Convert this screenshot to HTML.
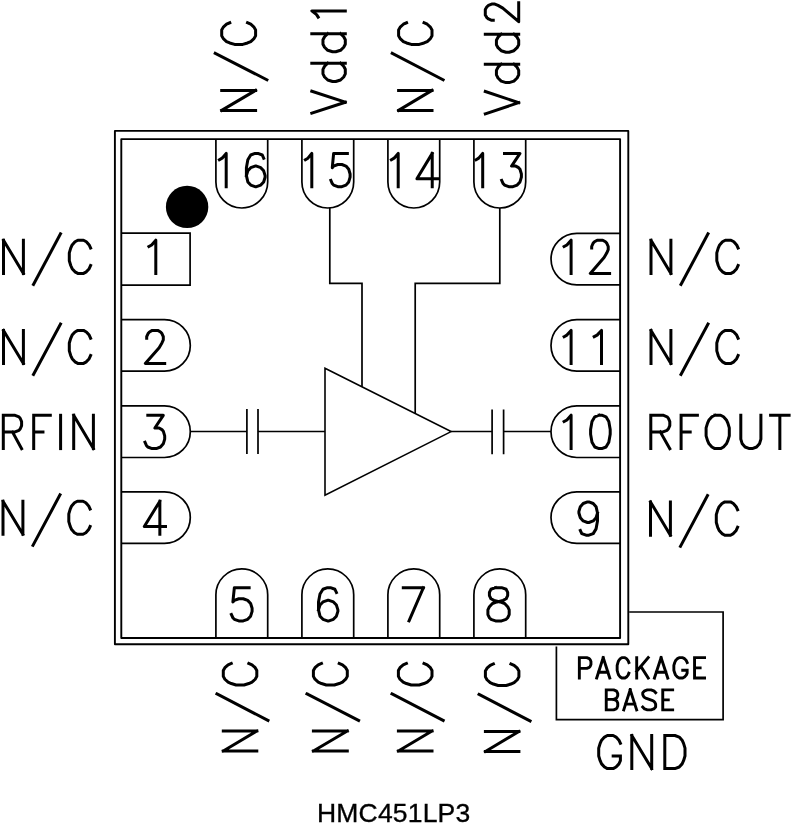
<!DOCTYPE html>
<html><head><meta charset="utf-8"><title>HMC451LP3</title>
<style>
html,body{margin:0;padding:0;background:#fff;}
body{width:792px;height:827px;overflow:hidden;position:relative;font-family:"Liberation Sans",sans-serif;}
svg{position:absolute;left:0;top:0;}
.cap{position:absolute;left:316.8px;top:799.6px;font-size:26.5px;line-height:1;color:#000;-webkit-text-stroke:0.35px #000;white-space:nowrap;transform:translateZ(0);will-change:transform;letter-spacing:0.18px;}
</style></head><body>
<svg width="792" height="827" viewBox="0 0 792 827" fill="none" stroke="#000" stroke-linecap="square" stroke-linejoin="round">
<rect x="114.9" y="130.9" width="513.4" height="513.3" stroke-width="1.9"/>
<rect x="121.3" y="139.1" width="498.8" height="498.9" stroke-width="1.9"/>
<path d="M215.9 139.1V182.1A25.9 25.9 0 0 0 267.7 182.1V139.1" stroke-width="1.7" stroke-linecap="butt" stroke-linejoin="miter"/>
<path d="M215.9 638V594.8A25.9 25.9 0 0 1 267.7 594.8V638" stroke-width="1.7" stroke-linecap="butt" stroke-linejoin="miter"/>
<path d="M301.9 139.1V182.1A25.9 25.9 0 0 0 353.7 182.1V139.1" stroke-width="1.7" stroke-linecap="butt" stroke-linejoin="miter"/>
<path d="M301.9 638V594.8A25.9 25.9 0 0 1 353.7 594.8V638" stroke-width="1.7" stroke-linecap="butt" stroke-linejoin="miter"/>
<path d="M387.9 139.1V182.1A25.9 25.9 0 0 0 439.7 182.1V139.1" stroke-width="1.7" stroke-linecap="butt" stroke-linejoin="miter"/>
<path d="M387.9 638V594.8A25.9 25.9 0 0 1 439.7 594.8V638" stroke-width="1.7" stroke-linecap="butt" stroke-linejoin="miter"/>
<path d="M473.9 139.1V182.1A25.9 25.9 0 0 0 525.7 182.1V139.1" stroke-width="1.7" stroke-linecap="butt" stroke-linejoin="miter"/>
<path d="M473.9 638V594.8A25.9 25.9 0 0 1 525.7 594.8V638" stroke-width="1.7" stroke-linecap="butt" stroke-linejoin="miter"/>
<path d="M121.3 233.2H190.1V285.2H121.3" stroke-width="1.7" stroke-linecap="butt" stroke-linejoin="miter"/>
<path d="M620.1 233.3H576.8A25.8 25.8 0 0 0 576.8 284.9H620.1" stroke-width="1.7" stroke-linecap="butt" stroke-linejoin="miter"/>
<path d="M121.3 319.6H164.5A25.8 25.8 0 0 1 164.5 371.2H121.3" stroke-width="1.7" stroke-linecap="butt" stroke-linejoin="miter"/>
<path d="M620.1 319.6H576.8A25.8 25.8 0 0 0 576.8 371.2H620.1" stroke-width="1.7" stroke-linecap="butt" stroke-linejoin="miter"/>
<path d="M121.3 405.9H164.5A25.8 25.8 0 0 1 164.5 457.5H121.3" stroke-width="1.7" stroke-linecap="butt" stroke-linejoin="miter"/>
<path d="M620.1 405.9H576.8A25.8 25.8 0 0 0 576.8 457.5H620.1" stroke-width="1.7" stroke-linecap="butt" stroke-linejoin="miter"/>
<path d="M121.3 491.8H164.5A25.8 25.8 0 0 1 164.5 543.4H121.3" stroke-width="1.7" stroke-linecap="butt" stroke-linejoin="miter"/>
<path d="M620.1 491.8H576.8A25.8 25.8 0 0 0 576.8 543.4H620.1" stroke-width="1.7" stroke-linecap="butt" stroke-linejoin="miter"/>
<circle cx="187.1" cy="206.9" r="21.2" fill="#000" stroke="none"/>
<path d="M190.3 431.5H246.9M246.9 409V454.1M258 409V454.1M258 431.5H325" stroke-width="1.7" stroke-linecap="butt" stroke-linejoin="miter"/>
<path d="M451.1 431.5H492.1M492.1 409.6V454.2M503.6 409.6V454.2M503.6 431.5H551" stroke-width="1.7" stroke-linecap="butt" stroke-linejoin="miter"/>
<path d="M325 368.2L451.1 431.6L325 495.2Z" stroke-width="1.6" stroke-linecap="butt" stroke-linejoin="miter"/>
<path d="M329.8 208V283.4H362V386.7" stroke-width="1.7" stroke-linecap="butt" stroke-linejoin="miter"/>
<path d="M499.8 208V283.3H415.2V413.5" stroke-width="1.7" stroke-linecap="butt" stroke-linejoin="miter"/>
<path d="M629.2 612H723.1V719.7H556.4V646.4" stroke-width="1.7" stroke-linecap="butt" stroke-linejoin="miter"/>
<path d="M3.5 240.2 3.5 273.4M3.5 240.2 23.4 273.4M23.4 240.2 23.4 273.4" stroke-width="3"/>
<path d="M60.5 233.88 33.5 284.47" stroke-width="3"/>
<path d="M90.6 248.1 89.18 244.94 86.34 241.78 83.5 240.2 77.82 240.2 74.98 241.78 72.14 244.94 70.72 248.1 69.3 252.85 69.3 260.75 70.72 265.5 72.14 268.66 74.98 271.82 77.82 273.4 83.5 273.4 86.34 271.82 89.18 268.66 90.6 265.5" stroke-width="3"/>
<path d="M3.5 330.4 3.5 363.4M3.5 330.4 23.4 363.4M23.4 330.4 23.4 363.4" stroke-width="3"/>
<path d="M60.5 324.11 33.5 374.4" stroke-width="3"/>
<path d="M90.6 338.26 89.18 335.11 86.34 331.97 83.5 330.4 77.82 330.4 74.98 331.97 72.14 335.11 70.72 338.26 69.3 342.97 69.3 350.83 70.72 355.54 72.14 358.69 74.98 361.83 77.82 363.4 83.5 363.4 86.34 361.83 89.18 358.69 90.6 355.54" stroke-width="3"/>
<path d="M3 501.2 3 534.3M3 501.2 22.9 534.3M22.9 501.2 22.9 534.3" stroke-width="3"/>
<path d="M60 494.9 33 545.33" stroke-width="3"/>
<path d="M90.1 509.08 88.68 505.93 85.84 502.78 83 501.2 77.32 501.2 74.48 502.78 71.64 505.93 70.22 509.08 68.8 513.81 68.8 521.69 70.22 526.42 71.64 529.57 74.48 532.72 77.32 534.3 83 534.3 85.84 532.72 88.68 529.57 90.1 526.42" stroke-width="3"/>
<path d="M3.3 415.3 3.3 448.6M3.3 415.3 15.06 415.3 18.99 416.89 20.29 418.47 21.6 421.64 21.6 425.61 20.29 428.78 18.99 430.36 15.06 431.95 3.3 431.95M12.45 431.95 21.6 448.6" stroke-width="3"/>
<path d="M33.7 415.3 33.7 448.6M33.7 415.3 50.3 415.3M33.7 431.95 42.96 431.95" stroke-width="3"/>
<path d="M60.6 415.3 60.6 448.6" stroke-width="3"/>
<path d="M73.7 415.3 73.7 448.6M73.7 415.3 93.4 448.6M93.4 415.3 93.4 448.6" stroke-width="3"/>
<path d="M651 240.2 651 273.4M651 240.2 670.9 273.4M670.9 240.2 670.9 273.4" stroke-width="3"/>
<path d="M708 233.88 681 284.47" stroke-width="3"/>
<path d="M738.1 248.1 736.68 244.94 733.84 241.78 731 240.2 725.32 240.2 722.48 241.78 719.64 244.94 718.22 248.1 716.8 252.85 716.8 260.75 718.22 265.5 719.64 268.66 722.48 271.82 725.32 273.4 731 273.4 733.84 271.82 736.68 268.66 738.1 265.5" stroke-width="3"/>
<path d="M651 330.4 651 363.4M651 330.4 670.9 363.4M670.9 330.4 670.9 363.4" stroke-width="3"/>
<path d="M708 324.11 681 374.4" stroke-width="3"/>
<path d="M738.1 338.26 736.68 335.11 733.84 331.97 731 330.4 725.32 330.4 722.48 331.97 719.64 335.11 718.22 338.26 716.8 342.97 716.8 350.83 718.22 355.54 719.64 358.69 722.48 361.83 725.32 363.4 731 363.4 733.84 361.83 736.68 358.69 738.1 355.54" stroke-width="3"/>
<path d="M650.5 501.9 650.5 535.2M650.5 501.9 670.4 535.2M670.4 501.9 670.4 535.2" stroke-width="3"/>
<path d="M707.5 495.56 680.5 546.3" stroke-width="3"/>
<path d="M737.6 509.83 736.18 506.66 733.34 503.49 730.5 501.9 724.82 501.9 721.98 503.49 719.14 506.66 717.72 509.83 716.3 514.59 716.3 522.51 717.72 527.27 719.14 530.44 721.98 533.61 724.82 535.2 730.5 535.2 733.34 533.61 736.18 530.44 737.6 527.27" stroke-width="3"/>
<path d="M650.8 415.2 650.8 448.6M650.8 415.2 663.01 415.2 667.09 416.79 668.44 418.38 669.8 421.56 669.8 425.54 668.44 428.72 667.09 430.31 663.01 431.9 650.8 431.9M660.3 431.9 669.8 448.6" stroke-width="3"/>
<path d="M681.1 415.2 681.1 448.6M681.1 415.2 697.4 415.2M681.1 431.9 690.19 431.9" stroke-width="3"/>
<path d="M714.8 415.2 711.9 416.79 709 419.97 707.55 423.15 706.1 427.92 706.1 435.88 707.55 440.65 709 443.83 711.9 447.01 714.8 448.6 720.6 448.6 723.5 447.01 726.4 443.83 727.85 440.65 729.3 435.88 729.3 427.92 727.85 423.15 726.4 419.97 723.5 416.79 720.6 415.2 714.8 415.2" stroke-width="3"/>
<path d="M740.8 415.2 740.8 439.06 742.24 443.83 745.11 447.01 749.41 448.6 752.29 448.6 756.59 447.01 759.46 443.83 760.9 439.06 760.9 415.2" stroke-width="3"/>
<path d="M779.85 415.2 779.85 448.6M770.6 415.2 789.1 415.2" stroke-width="3"/>
<path d="M219.4 159.74 222.12 158.16 226.2 153.4 226.2 186.7" stroke-width="3"/>
<path d="M263.66 158.16 262.22 154.99 257.91 153.4 255.03 153.4 250.72 154.99 247.84 159.74 246.4 167.67 246.4 175.6 247.84 181.94 250.72 185.11 255.03 186.7 256.47 186.7 260.78 185.11 263.66 181.94 265.1 177.19 265.1 175.6 263.66 170.84 260.78 167.67 256.47 166.09 255.03 166.09 250.72 167.67 247.84 170.84 246.4 175.6" stroke-width="3"/>
<path d="M305.4 159.74 307.96 158.16 311.8 153.4 311.8 186.7" stroke-width="3"/>
<path d="M347.36 153.4 333.64 153.4 332.27 167.67 333.64 166.09 337.76 164.5 341.87 164.5 345.99 166.09 348.73 169.26 350.1 174.01 350.1 177.19 348.73 181.94 345.99 185.11 341.87 186.7 337.76 186.7 333.64 185.11 332.27 183.53 330.9 180.36" stroke-width="3"/>
<path d="M391.4 159.74 394.12 158.16 398.2 153.4 398.2 186.7" stroke-width="3"/>
<path d="M432.23 153.4 416.9 178.77 437.8 178.77M432.23 153.4 432.23 186.7" stroke-width="3"/>
<path d="M476.1 159.74 478.74 158.16 482.7 153.4 482.7 186.7" stroke-width="3"/>
<path d="M504.51 153.4 519.99 153.4 511.55 166.09 515.77 166.09 518.59 167.67 519.99 169.26 521.4 174.01 521.4 177.19 519.99 181.94 517.18 185.11 512.96 186.7 508.74 186.7 504.51 185.11 503.11 183.53 501.7 180.36" stroke-width="3"/>
<path d="M249.14 587.7 234.36 587.7 232.88 601.93 234.36 600.35 238.79 598.77 243.23 598.77 247.66 600.35 250.62 603.51 252.1 608.25 252.1 611.41 250.62 616.16 247.66 619.32 243.23 620.9 238.79 620.9 234.36 619.32 232.88 617.74 231.4 614.58" stroke-width="3"/>
<path d="M336.41 592.44 334.92 589.28 330.44 587.7 327.45 587.7 322.98 589.28 319.99 594.02 318.5 601.93 318.5 609.83 319.99 616.16 322.98 619.32 327.45 620.9 328.95 620.9 333.42 619.32 336.41 616.16 337.9 611.41 337.9 609.83 336.41 605.09 333.42 601.93 328.95 600.35 327.45 600.35 322.98 601.93 319.99 605.09 318.5 609.83" stroke-width="3"/>
<path d="M423.4 587.7 409.04 620.9M403.3 587.7 423.4 587.7" stroke-width="3"/>
<path d="M495.51 587.7 490.94 589.28 489.42 592.44 489.42 595.6 490.94 598.77 493.99 600.35 500.07 601.93 504.64 603.51 507.68 606.67 509.2 609.83 509.2 614.58 507.68 617.74 506.16 619.32 501.59 620.9 495.51 620.9 490.94 619.32 489.42 617.74 487.9 614.58 487.9 609.83 489.42 606.67 492.46 603.51 497.03 601.93 503.11 600.35 506.16 598.77 507.68 595.6 507.68 592.44 506.16 589.28 501.59 587.7 495.51 587.7" stroke-width="3"/>
<path d="M148.9 246.52 151.66 244.94 155.8 240.2 155.8 273.4" stroke-width="3"/>
<path d="M146.69 338.26 146.69 336.69 148.07 333.54 149.46 331.97 152.23 330.4 157.77 330.4 160.54 331.97 161.93 333.54 163.31 336.69 163.31 339.83 161.93 342.97 159.16 347.69 145.3 363.4 164.7 363.4" stroke-width="3"/>
<path d="M147.81 415.3 163.29 415.3 154.85 427.99 159.07 427.99 161.89 429.57 163.29 431.16 164.7 435.91 164.7 439.09 163.29 443.84 160.48 447.01 156.26 448.6 152.04 448.6 147.81 447.01 146.41 445.43 145 442.26" stroke-width="3"/>
<path d="M159.85 501.2 144.3 526.42 165.5 526.42M159.85 501.2 159.85 534.3" stroke-width="3"/>
<path d="M564.1 246.52 566.9 244.94 571.1 240.2 571.1 273.4" stroke-width="3"/>
<path d="M591.68 248.1 591.68 246.52 593.06 243.36 594.44 241.78 597.19 240.2 602.71 240.2 605.46 241.78 606.84 243.36 608.22 246.52 608.22 249.69 606.84 252.85 604.09 257.59 590.3 273.4 609.6 273.4" stroke-width="3"/>
<path d="M564.1 336.69 566.9 335.11 571.1 330.4 571.1 363.4" stroke-width="3"/>
<path d="M594.2 336.69 597.12 335.11 601.5 330.4 601.5 363.4" stroke-width="3"/>
<path d="M564.1 421.56 566.9 419.97 571.1 415.2 571.1 448.6" stroke-width="3"/>
<path d="M599 415.2 594.8 416.79 592 421.56 590.6 429.51 590.6 434.29 592 442.24 594.8 447.01 599 448.6 601.8 448.6 606 447.01 608.8 442.24 610.2 434.29 610.2 429.51 608.8 421.56 606 416.79 601.8 415.2 599 415.2" stroke-width="3"/>
<path d="M597.5 513 596.07 517.76 593.21 520.93 588.92 522.51 587.48 522.51 583.19 520.93 580.33 517.76 578.9 513 578.9 511.41 580.33 506.66 583.19 503.49 587.48 501.9 588.92 501.9 593.21 503.49 596.07 506.66 597.5 513 597.5 520.93 596.07 528.86 593.21 533.61 588.92 535.2 586.05 535.2 581.76 533.61 580.33 530.44" stroke-width="3"/>
<path d="M221.7 110.4 255.6 110.4M221.7 110.4 255.6 90.4M221.7 90.4 255.6 90.4" stroke-width="3"/>
<path d="M215.24 53.3 266.9 79.8" stroke-width="3"/>
<path d="M229.77 22.8 226.54 24.24 223.31 27.12 221.7 30 221.7 35.76 223.31 38.64 226.54 41.52 229.77 42.96 234.61 44.4 242.69 44.4 247.53 42.96 250.76 41.52 253.99 38.64 255.6 35.76 255.6 30 253.99 27.12 250.76 24.24 247.53 22.8" stroke-width="3"/>
<path d="M398.6 110.4 432 110.4M398.6 110.4 432 90.4M398.6 90.4 432 90.4" stroke-width="3"/>
<path d="M392.24 53.3 443.13 79.8" stroke-width="3"/>
<path d="M406.55 22.8 403.37 24.24 400.19 27.12 398.6 30 398.6 35.76 400.19 38.64 403.37 41.52 406.55 42.96 411.32 44.4 419.28 44.4 424.05 42.96 427.23 41.52 430.41 38.64 432 35.76 432 30 430.41 27.12 427.23 24.24 424.05 22.8" stroke-width="3"/>
<path d="M311.8 113.2 345.3 102.2M311.8 91.2 345.3 102.2" stroke-width="3"/>
<path d="M311.8 63.2 345.3 63.2M327.75 63.2 324.56 66.26 322.97 69.32 322.97 73.9 324.56 76.96 327.75 80.02 332.54 81.55 335.73 81.55 340.51 80.02 343.7 76.96 345.3 73.9 345.3 69.32 343.7 66.26 340.51 63.2" stroke-width="3"/>
<path d="M311.8 33.7 345.3 33.7M327.75 33.7 324.56 36.72 322.97 39.73 322.97 44.26 324.56 47.27 327.75 50.29 332.54 51.8 335.73 51.8 340.51 50.29 343.7 47.27 345.3 44.26 345.3 39.73 343.7 36.72 340.51 33.7" stroke-width="3"/>
<path d="M318.18 17.1 316.59 14.62 311.8 10.9 345.3 10.9" stroke-width="3"/>
<path d="M485.3 113.8 518.7 102.65M485.3 91.5 518.7 102.65" stroke-width="3"/>
<path d="M485.3 64.2 518.7 64.2M501.2 64.2 498.02 67.27 496.43 70.33 496.43 74.93 498.02 78 501.2 81.07 505.98 82.6 509.16 82.6 513.93 81.07 517.11 78 518.7 74.93 518.7 70.33 517.11 67.27 513.93 64.2" stroke-width="3"/>
<path d="M485.3 34.2 518.7 34.2M501.2 34.2 498.02 37.2 496.43 40.2 496.43 44.7 498.02 47.7 501.2 50.7 505.98 52.2 509.16 52.2 513.93 50.7 517.11 47.7 518.7 44.7 518.7 40.2 517.11 37.2 513.93 34.2" stroke-width="3"/>
<path d="M493.25 20.34 491.66 20.34 488.48 18.99 486.89 17.63 485.3 14.91 485.3 9.49 486.89 6.77 488.48 5.41 491.66 4.06 494.84 4.06 498.02 5.41 502.8 8.13 518.7 21.7 518.7 2.7" stroke-width="3"/>
<path d="M223.3 751 256.8 751M223.3 751 256.8 731M223.3 731 256.8 731" stroke-width="3"/>
<path d="M216.92 693.9 267.97 720.4" stroke-width="3"/>
<path d="M231.28 663.4 228.09 664.84 224.9 667.72 223.3 670.6 223.3 676.36 224.9 679.24 228.09 682.12 231.28 683.56 236.06 685 244.04 685 248.82 683.56 252.01 682.12 255.2 679.24 256.8 676.36 256.8 670.6 255.2 667.72 252.01 664.84 248.82 663.4" stroke-width="3"/>
<path d="M313.4 751 347.3 751M313.4 751 347.3 731M313.4 731 347.3 731" stroke-width="3"/>
<path d="M306.94 693.9 358.6 720.4" stroke-width="3"/>
<path d="M321.47 663.4 318.24 664.84 315.01 667.72 313.4 670.6 313.4 676.36 315.01 679.24 318.24 682.12 321.47 683.56 326.31 685 334.39 685 339.23 683.56 342.46 682.12 345.69 679.24 347.3 676.36 347.3 670.6 345.69 667.72 342.46 664.84 339.23 663.4" stroke-width="3"/>
<path d="M398.4 751 432 751M398.4 751 432 731M398.4 731 432 731" stroke-width="3"/>
<path d="M392 693.9 443.2 720.4" stroke-width="3"/>
<path d="M406.4 663.4 403.2 664.84 400 667.72 398.4 670.6 398.4 676.36 400 679.24 403.2 682.12 406.4 683.56 411.2 685 419.2 685 424 683.56 427.2 682.12 430.4 679.24 432 676.36 432 670.6 430.4 667.72 427.2 664.84 424 663.4" stroke-width="3"/>
<path d="M485.4 751.5 518.9 751.5M485.4 751.5 518.9 731.5M485.4 731.5 518.9 731.5" stroke-width="3"/>
<path d="M479.02 694.4 530.07 720.9" stroke-width="3"/>
<path d="M493.38 663.9 490.19 665.34 487 668.22 485.4 671.1 485.4 676.86 487 679.74 490.19 682.62 493.38 684.06 498.16 685.5 506.14 685.5 510.92 684.06 514.11 682.62 517.3 679.74 518.9 676.86 518.9 671.1 517.3 668.22 514.11 665.34 510.92 663.9" stroke-width="3"/>
<path d="M579.35 657.65 579.35 678.05M579.35 657.65 586.81 657.65 589.29 658.62 590.12 659.59 590.95 661.54 590.95 664.45 590.12 666.39 589.29 667.36 586.81 668.34 579.35 668.34" stroke-width="2.9"/>
<path d="M603.23 657.65 596.7 678.05M603.23 657.65 609.75 678.05M598.58 672.22 607.87 672.22" stroke-width="2.9"/>
<path d="M628.85 662.51 628.07 660.56 626.51 658.62 624.95 657.65 621.83 657.65 620.27 658.62 618.71 660.56 617.93 662.51 617.15 665.42 617.15 670.28 617.93 673.19 618.71 675.14 620.27 677.08 621.83 678.05 624.95 678.05 626.51 677.08 628.07 675.14 628.85 673.19" stroke-width="2.9"/>
<path d="M636.7 657.65 636.7 678.05M648.25 657.65 636.7 671.25M640.83 666.39 648.25 678.05" stroke-width="2.9"/>
<path d="M661.1 657.65 654.45 678.05M661.1 657.65 667.75 678.05M656.36 672.22 665.84 672.22" stroke-width="2.9"/>
<path d="M687.15 662.51 686.26 660.56 684.49 658.62 682.72 657.65 679.17 657.65 677.4 658.62 675.62 660.56 674.74 662.51 673.85 665.42 673.85 670.28 674.74 673.19 675.62 675.14 677.4 677.08 679.17 678.05 682.72 678.05 684.49 677.08 686.26 675.14 687.15 673.19 687.15 670.28M682.72 670.28 687.15 670.28" stroke-width="2.9"/>
<path d="M694.55 657.65 694.55 678.05M694.55 657.65 704.55 657.65M694.55 667.85 700.13 667.85M694.55 678.05 704.55 678.05" stroke-width="2.9"/>
<path d="M606.25 689.85 606.25 709.85M606.25 689.85 613.64 689.85 616.11 690.8 616.93 691.75 617.75 693.66 617.75 695.56 616.93 697.47 616.11 698.42 613.64 699.37M606.25 699.37 613.64 699.37 616.11 700.33 616.93 701.28 617.75 703.18 617.75 706.04 616.93 707.95 616.11 708.9 613.64 709.85 606.25 709.85" stroke-width="2.9"/>
<path d="M630.2 689.85 623.75 709.85M630.2 689.85 636.65 709.85M625.6 704.14 634.8 704.14" stroke-width="2.9"/>
<path d="M655.65 692.71 653.81 690.8 651.04 689.85 647.36 689.85 644.59 690.8 642.75 692.71 642.75 694.61 643.67 696.52 644.59 697.47 646.44 698.42 651.96 700.33 653.81 701.28 654.73 702.23 655.65 704.14 655.65 706.99 653.81 708.9 651.04 709.85 647.36 709.85 644.59 708.9 642.75 706.99" stroke-width="2.9"/>
<path d="M662.75 689.85 662.75 709.85M662.75 689.85 672.65 689.85M662.75 699.85 668.27 699.85M662.75 709.85 672.65 709.85" stroke-width="2.9"/>
<path d="M620.4 743.38 618.95 740.23 616.06 737.08 613.17 735.5 607.38 735.5 604.49 737.08 601.59 740.23 600.15 743.38 598.7 748.11 598.7 755.99 600.15 760.72 601.59 763.87 604.49 767.02 607.38 768.6 613.17 768.6 616.06 767.02 618.95 763.87 620.4 760.72 620.4 755.99M613.17 755.99 620.4 755.99" stroke-width="3"/>
<path d="M631.8 735.5 631.8 768.6M631.8 735.5 651.7 768.6M651.7 735.5 651.7 768.6" stroke-width="3"/>
<path d="M664.8 735.5 664.8 768.6M664.8 735.5 674.9 735.5 679.23 737.08 682.11 740.23 683.56 743.38 685 748.11 685 755.99 683.56 760.72 682.11 763.87 679.23 767.02 674.9 768.6 664.8 768.6" stroke-width="3"/>
</svg>
<div class="cap">HMC451LP3</div>
</body></html>
